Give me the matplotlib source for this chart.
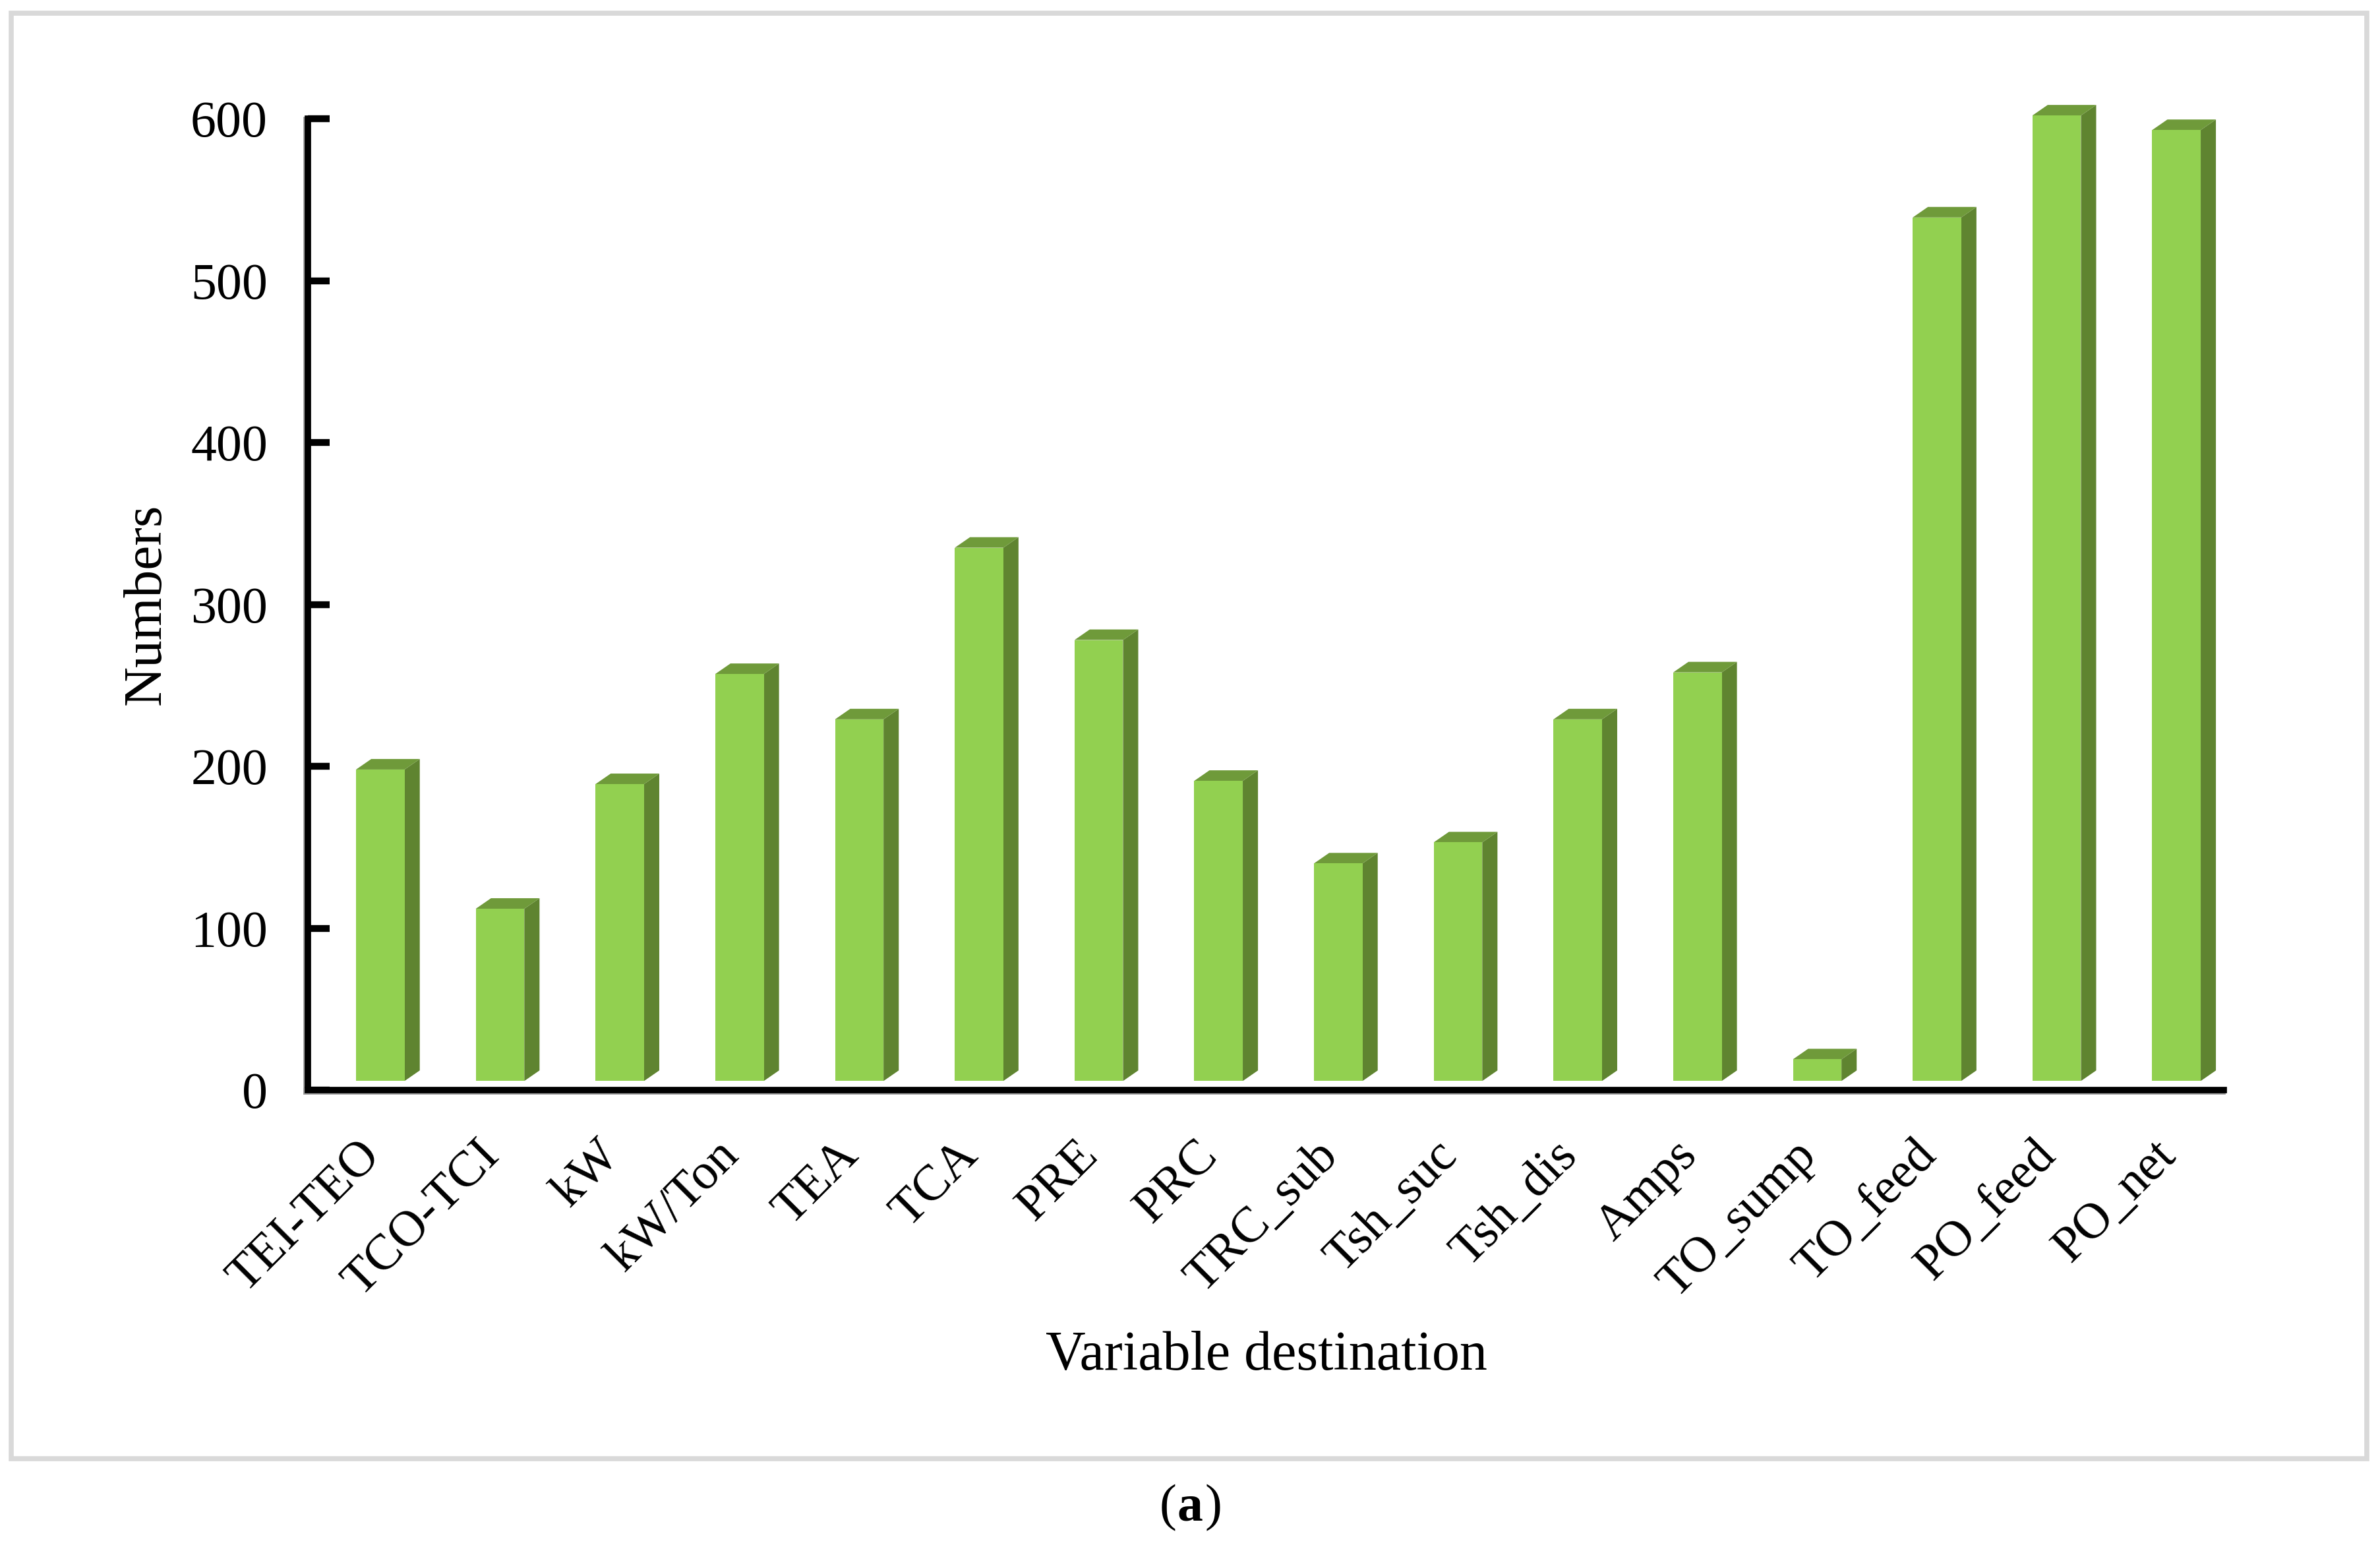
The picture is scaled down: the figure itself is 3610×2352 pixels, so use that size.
import matplotlib
matplotlib.use("Agg")
import matplotlib.pyplot as plt
import matplotlib.patheffects as pe
from matplotlib.patches import Polygon, Rectangle
from matplotlib.transforms import ScaledTranslation

plt.rcParams['font.family'] = ['Liberation Serif', 'DejaVu Serif']

categories = ['TEI-TEO', 'TCO-TCI', 'kW', 'kW/Ton', 'TEA', 'TCA', 'PRE', 'PRC', 'TRC_sub',
              'Tsh_suc', 'Tsh_dis', 'Amps', 'TO_sump', 'TO_feed', 'PO_feed', 'PO_net']
values = [198, 112, 189, 257, 229, 335, 278, 191, 140, 153, 229, 258, 19, 539, 602, 593]
y_ticks = [0, 100, 200, 300, 400, 500, 600]

W, H = 3610, 2352
FRONT, SIDE, TOP = '#92D050', '#5F8430', '#6F9A3A'
fig = plt.figure(figsize=(W / 100, H / 100), dpi=100, facecolor='white')

# outer frame
fig.add_artist(Rectangle((17 / W, 1 - 2212 / H), (3590 - 17) / W, (2212 - 20) / H, transform=fig.transFigure,
                         fill=False, edgecolor='#D9D9D9', linewidth=5.5))

left, right, top, bottom = 467, 3373, 180, 1653
ax = fig.add_axes([left / W, 1 - bottom / H, (right - left) / W, (bottom - top) / H])
ax.set_xlim(-0.5, 15.5)
ax.set_ylim(0, 600)
ax.patch.set_alpha(0)

shift, width, dx, dy, base = 0.105, 0.405, 0.127, 6.5, 5.6
xs = list(range(len(categories)))
ax.bar([x + shift for x in xs], [v - base for v in values], width=width, bottom=base,
       color=FRONT, linewidth=0, clip_on=False, zorder=3)
for x, v in zip(xs, values):
    l = x + shift - width / 2
    r = x + shift + width / 2
    ax.add_patch(Polygon([(r, base), (r + dx, base + dy), (r + dx, v + dy), (r, v)],
                         facecolor=SIDE, edgecolor='none', clip_on=False, zorder=2))
    ax.add_patch(Polygon([(l, v), (l + dx, v + dy), (r + dx, v + dy), (r, v)],
                         facecolor=TOP, edgecolor='none', clip_on=False, zorder=2))

for s in ['top', 'right']:
    ax.spines[s].set_visible(False)
for s in ['left', 'bottom']:
    ax.spines[s].set_linewidth(7)
    ax.spines[s].set_color('black')
    ax.spines[s].set_zorder(4)
    ax.spines[s].set_capstyle('projecting')
    ax.spines[s].set_path_effects([
        pe.SimpleLineShadow(offset=(-1.6, -1.6), shadow_color='#9A9A9A', alpha=1.0),
        pe.Normal()])

ax.set_yticks(y_ticks)
ax.tick_params(axis='y', direction='in', length=24, width=7.5, labelsize=56, pad=44, color='black')
ax.set_xticks(xs)
ax.set_xticklabels(categories, rotation=45, ha='right', va='top', rotation_mode='anchor', fontsize=55)
ax.tick_params(axis='x', length=0, pad=46)
nudge = ScaledTranslation(-17 / 100, 0, fig.dpi_scale_trans)
for lab in ax.get_xticklabels():
    lab.set_transform(lab.get_transform() + nudge)

ax.set_xlabel('Variable destination', fontsize=60.5)
ax.xaxis.set_label_coords((1921 - left) / (right - left), (bottom - 2057) / (bottom - top))
ax.xaxis.label.set_verticalalignment('center')
ax.set_ylabel('Numbers', fontsize=60)
ax.yaxis.set_label_coords((223 - left) / (right - left), (bottom - 916) / (bottom - top))
ax.yaxis.label.set_verticalalignment('center')

fig.text(1785 / W, 1 - 2287 / H, '(', fontsize=56, ha='right', va='center')
fig.text(1786 / W, 1 - 2287 / H, 'a', fontsize=56, fontweight='bold', ha='left', va='center')
fig.text(1827 / W, 1 - 2287 / H, ')', fontsize=56, ha='left', va='center')

fig.savefig('out.png', dpi=100)
